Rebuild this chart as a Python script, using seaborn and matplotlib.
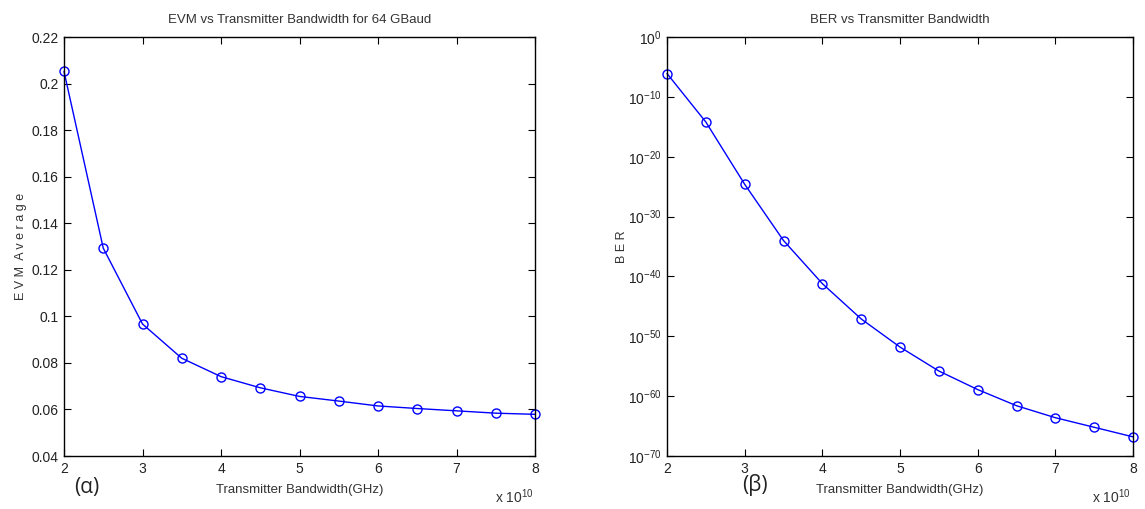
import numpy as np
import seaborn as sns
import matplotlib
matplotlib.use("Agg")
import matplotlib.pyplot as plt
from matplotlib.ticker import FuncFormatter, FixedLocator, NullLocator

# Transmitter bandwidth in Hz (axis shows x 10^10)
bandwidth = [2.0e10, 2.5e10, 3.0e10, 3.5e10, 4.0e10, 4.5e10, 5.0e10,
             5.5e10, 6.0e10, 6.5e10, 7.0e10, 7.5e10, 8.0e10]
evm_avg = [0.2052, 0.1293, 0.0967, 0.0820, 0.0741, 0.0693, 0.0656,
           0.0636, 0.0615, 0.0604, 0.0594, 0.0584, 0.0579]
ber_exp = [-6.1, -14.2, -24.6, -34.0, -41.2, -47.1, -51.8,
           -55.8, -58.9, -61.6, -63.6, -65.2, -66.8]
ber = [10.0 ** e for e in ber_exp]

sns.set_style("ticks")
plt.rcParams['font.family'] = ['Liberation Sans', 'DejaVu Sans']
plt.rcParams['mathtext.fontset'] = 'custom'
plt.rcParams['mathtext.rm'] = 'Liberation Sans'
plt.rcParams['mathtext.it'] = 'Liberation Sans'
plt.rcParams['axes.unicode_minus'] = False

line_kw = dict(color='#0000ff', linewidth=1.0, marker='o', markersize=6.5,
               markerfacecolor='none', markeredgecolor='#0000ff', markeredgewidth=1.0,
               clip_on=False)

fig = plt.figure(figsize=(11.45, 5.09), dpi=100)
ax1 = fig.add_axes([64 / 1145, 1 - 456 / 509, 471 / 1145, 419 / 509])
ax2 = fig.add_axes([667 / 1145, 1 - 456 / 509, 466 / 1145, 419 / 509])


def matlab_axes(ax, off_x):
    for s in ax.spines.values():
        s.set_visible(True)
        s.set_color('black')
        s.set_linewidth(1.0)
    ax.tick_params(direction='in', length=5, width=0.8, top=True, right=True,
                   labelsize=10, colors='black', labelcolor='#222222', pad=4)
    ax.tick_params(which='minor', length=0)
    ax.set_xlim(2e10, 8e10)
    ax.xaxis.set_major_locator(FixedLocator(np.arange(2e10, 8.01e10, 1e10)))
    ax.xaxis.set_major_formatter(FuncFormatter(lambda v, p: '%g' % (v / 1e10)))
    ax.set_xlabel('Transmitter Bandwidth(GHz)', fontsize=9.5, color='#333333', labelpad=6)
    fig.text(off_x / 1145, 1 - 497 / 509, r'x 10$^{10}$', fontsize=10,
             ha='center', va='center', color='#333333')


# (a) EVM
sns.lineplot(x=bandwidth, y=evm_avg, ax=ax1, **line_kw)
matlab_axes(ax1, 514)
ax1.set_ylim(0.04, 0.22)
ax1.yaxis.set_major_locator(FixedLocator(np.arange(0.04, 0.2201, 0.02)))
ax1.yaxis.set_major_formatter(FuncFormatter(lambda v, p: '%g' % round(v, 2)))
ax1.set_ylabel('E V M  A v e r a g e', fontsize=9, color='#333333', labelpad=3)
ax1.set_title('EVM vs Transmitter Bandwidth for 64 GBaud', fontsize=9.5,
              color='#333333', pad=10)

# (b) BER
ax2.set_yscale('log')
sns.lineplot(x=bandwidth, y=ber, ax=ax2, **line_kw)
matlab_axes(ax2, 1111)
ax2.set_ylim(1e-70, 1e0)
ax2.yaxis.set_major_locator(FixedLocator([10.0 ** k for k in range(-70, 1, 10)]))
ax2.yaxis.set_minor_locator(NullLocator())
ax2.yaxis.set_major_formatter(FuncFormatter(lambda v, p: r'10$^{%d}$' % round(np.log10(v))))
ax2.set_ylabel('B E R', fontsize=9, color='#333333', labelpad=0)
ax2.set_title('BER vs Transmitter Bandwidth', fontsize=9.5, color='#333333', pad=10)

fig.text(87 / 1145, 1 - 487 / 509, '(α)', fontsize=15, ha='center', va='center',
         family=['Open Sans', 'DejaVu Sans'], color='#222222')
fig.text(755 / 1145, 1 - 485 / 509, '(β)', fontsize=15, ha='center', va='center',
         family=['Open Sans', 'DejaVu Sans'], color='#222222')

fig.savefig('out.png', dpi=100)
